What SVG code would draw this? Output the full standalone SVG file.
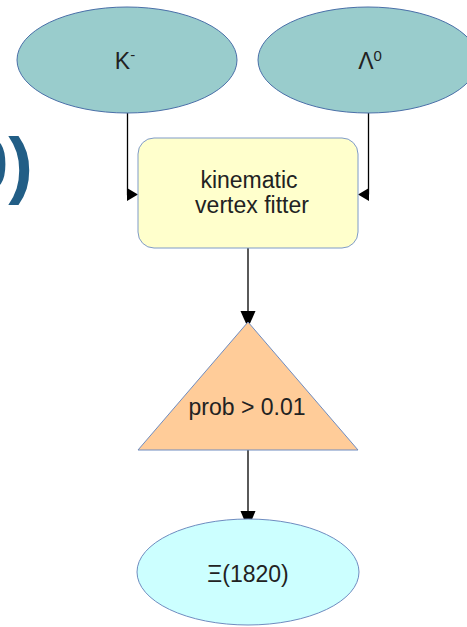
<svg xmlns="http://www.w3.org/2000/svg" width="467" height="627" viewBox="0 0 467 627">
<style>
.lbl{font-family:"Liberation Sans",Arial,sans-serif;font-size:23px;fill:#222;text-anchor:middle}
.ell{fill:#99cccc;stroke:#4a6fa8;stroke-width:1}
.con{stroke:#000;stroke-width:1.3;fill:none}
.ah{fill:#000}
</style>
<rect width="467" height="627" fill="#fff"/>
<text x="33" y="190" font-family="Liberation Sans,Arial,sans-serif" font-weight="bold" font-size="74" fill="#225e86" text-anchor="end">0)</text>
<g id="connectors">
<polyline class="con" points="127.5,113 127.5,194.5 128,194.5"/>
<polygon class="ah" points="138,194.5 127,188 127,201"/>
<polyline class="con" points="368.5,113 368.5,194.5"/>
<polygon class="ah" points="358,194.5 369,188 369,201"/>
<line class="con" x1="248" y1="248" x2="248" y2="312"/>
<polygon class="ah" points="248,328 240.5,311 255.5,311"/>
<line class="con" x1="248" y1="450" x2="248" y2="512"/>
<polygon class="ah" points="248,529 240.5,511 255.5,511"/>
</g>
<g id="kminus">
<ellipse class="ell" cx="127" cy="60" rx="110" ry="53"/>
<text class="lbl" x="125" y="69">K<tspan font-size="15" dy="-9">-</tspan></text>
</g>
<g id="lambda">
<ellipse class="ell" cx="368" cy="60" rx="110" ry="53"/>
<text class="lbl" x="370" y="69">Λ<tspan font-size="15" dy="-8">0</tspan></text>
</g>
<g id="fitter">
<rect x="138" y="138" width="220" height="110" rx="16" fill="#ffffcc" stroke="#7f9bc8" stroke-width="1"/>
<text class="lbl" x="249" y="188" font-size="22.5">kinematic</text>
<text class="lbl" x="252" y="213" font-size="22.5">vertex fitter</text>
</g>
<g id="prob">
<polygon points="248,322 358,450 138,450" fill="#ffcc99" stroke="#6f8cc0" stroke-width="1"/>
<text class="lbl" x="247" y="415">prob &gt; 0.01</text>
</g>
<g id="xi">
<ellipse cx="248" cy="572" rx="111" ry="53" fill="#ccffff" stroke="#6f8cc0" stroke-width="1"/>
<text class="lbl" x="248" y="582" font-size="24">Ξ(1820)</text>
</g>
</svg>
